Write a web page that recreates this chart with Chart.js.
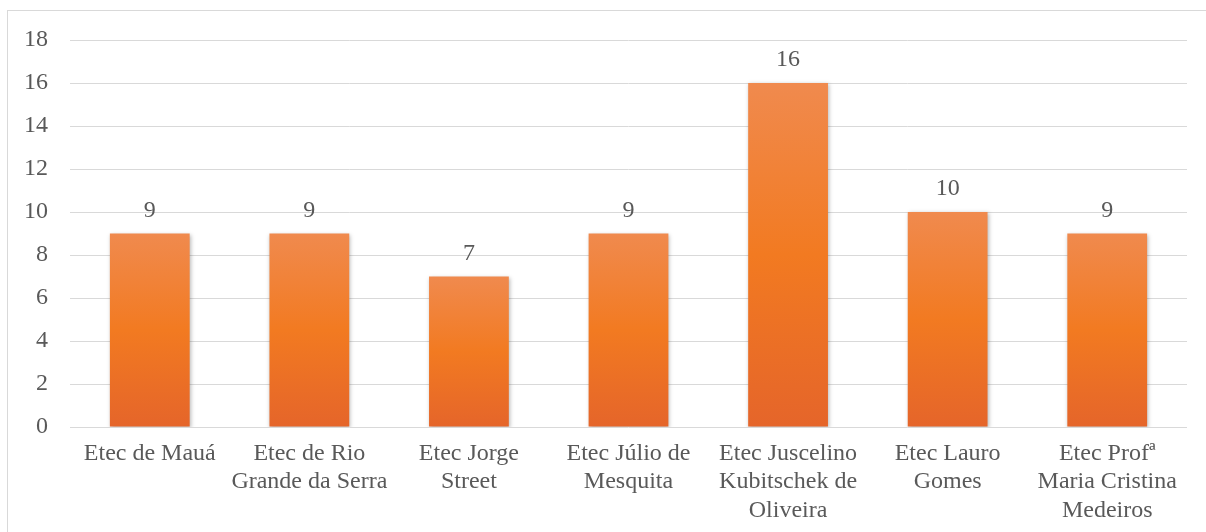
<!DOCTYPE html>
<html>
<head>
<meta charset="utf-8">
<script src="https://cdn.jsdelivr.net/npm/chart.js@4.4.1/dist/chart.umd.min.js"></script>
<style>
  html, body { margin: 0; padding: 0; background: #fff; }
  #wrap { position: relative; width: 1206px; height: 532px; overflow: hidden; }
  #frame { position: absolute; left: 7px; top: 10px; width: 1210px; height: 540px; border: 1px solid #d9d9d9; box-sizing: border-box; }
  #chart { position: absolute; left: 0; top: 0; }
  #probe { position: absolute; left: -999px; top: 0; font-family: 'Liberation Serif'; font-size: 24px; }
</style>
</head>
<body>
<div id="wrap">
  <div id="frame"></div>
  <canvas id="chart" width="1206" height="532"></canvas>
</div>
<span id="probe">Etec 0123456789 Mauá</span>
<script>
// Data
const schools = [
    ['Etec de Mauá'],
    ['Etec de Rio', 'Grande da Serra'],
    ['Etec Jorge', 'Street'],
    ['Etec Júlio de', 'Mesquita'],
    ['Etec Juscelino', 'Kubitschek de', 'Oliveira'],
    ['Etec Lauro', 'Gomes'],
    ['Etec Profª', 'Maria Cristina', 'Medeiros']
];
const counts = [9, 9, 7, 9, 16, 10, 9];
const yTicks = [0, 2, 4, 6, 8, 10, 12, 14, 16, 18];

const textColor = '#595959';
const serif = '"Liberation Serif", "Times New Roman", serif';

// gradiente per batang (terang di atas, gelap di bawah)
function barGradient(context) {
    const chart = context.chart;
    const yScale = chart.scales.y;
    if (!chart.chartArea || !yScale) return '#f27a21';
    const top = yScale.getPixelForValue(counts[context.dataIndex]);
    const bottom = yScale.getPixelForValue(0);
    if (!isFinite(top) || !isFinite(bottom) || top === bottom) return '#f27a21';
    const g = chart.ctx.createLinearGradient(0, top, 0, bottom);
    g.addColorStop(0, '#f08a4e');
    g.addColorStop(0.5, '#f27a21');
    g.addColorStop(1, '#e5652a');
    return g;
}

// bayangan tipis di belakang batang
const barShadow = {
    id: 'barShadow',
    beforeDatasetsDraw(chart) {
        const ctx = chart.ctx;
        ctx.save();
        ctx.shadowColor = 'rgba(0, 0, 0, 0.28)';
        ctx.shadowBlur = 4;
        ctx.shadowOffsetX = 1;
        ctx.shadowOffsetY = 1;
    },
    afterDatasetsDraw(chart) {
        chart.ctx.restore();
    }
};

// label nilai di atas batang
const valueLabels = {
    id: 'valueLabels',
    afterDatasetsDraw(chart) {
        const ctx = chart.ctx;
        const meta = chart.getDatasetMeta(0);
        ctx.save();
        ctx.font = '24px ' + serif;
        ctx.fillStyle = textColor;
        ctx.textAlign = 'center';
        ctx.textBaseline = 'alphabetic';
        meta.data.forEach((bar, i) => {
            ctx.fillText(String(counts[i]), bar.x, bar.y - 17);
        });
        ctx.restore();
    }
};

function drawChart() {
    const ctx = document.getElementById('chart').getContext('2d');
    new Chart(ctx, {
        type: 'bar',
        data: {
            labels: schools,
            datasets: [{
                data: counts,
                backgroundColor: barGradient,
                borderWidth: 0,
                categoryPercentage: 1,
                barPercentage: 0.5
            }]
        },
        options: {
            responsive: false,
            animation: false,
            devicePixelRatio: 1,
            layout: { padding: { top: 40, right: 19, bottom: 0, left: 0 } },
            plugins: {
                legend: { display: false },
                tooltip: { enabled: false }
            },
            scales: {
                x: {
                    grid: { display: false, drawTicks: false },
                    border: { display: false },
                    ticks: {
                        color: textColor,
                        font: { family: serif, size: 24, lineHeight: 1.2 },
                        padding: 12,
                        maxRotation: 0,
                        autoSkip: false
                    },
                    afterFit(scale) { scale.height = 105; }
                },
                y: {
                    min: 0,
                    max: 18,
                    afterBuildTicks(scale) { scale.ticks = yTicks.map(v => ({ value: v })); },
                    grid: { color: '#d9d9d9', lineWidth: 1, drawTicks: false },
                    border: { display: false },
                    ticks: {
                        color: textColor,
                        font: { family: serif, size: 24 },
                        padding: 22
                    },
                    afterFit(scale) { scale.width = 70; }
                }
            }
        },
        plugins: [barShadow, valueLabels]
    });
}

Chart.defaults.font.family = serif;
if (document.fonts && document.fonts.load) {
    document.fonts.load('24px "Liberation Serif"').then(drawChart, drawChart);
} else {
    drawChart();
}
</script>
</body>
</html>
